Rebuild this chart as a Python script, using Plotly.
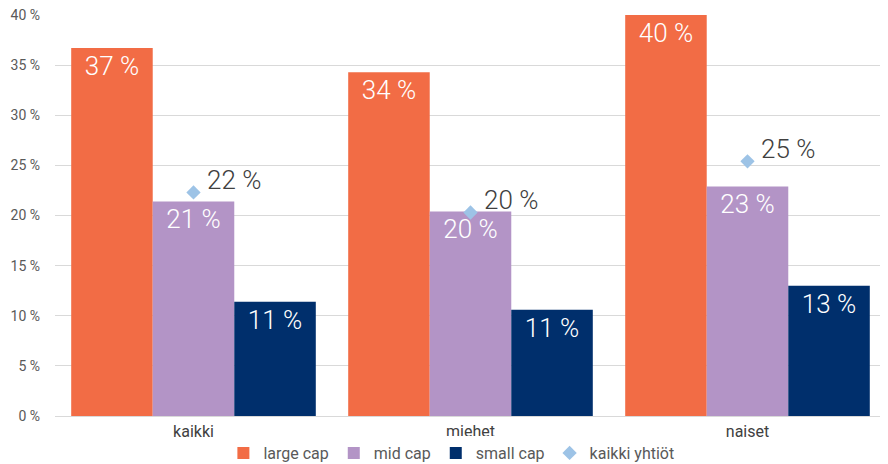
import plotly.graph_objects as go

categories = ["kaikki", "miehet", "naiset"]
large_cap = [36.7, 34.3, 40.0]
mid_cap = [21.4, 20.4, 22.9]
small_cap = [11.4, 10.6, 13.0]
kaikki_yhtiot = [22.3, 20.3, 25.4]
series_names = ["large cap", "mid cap", "small cap", "kaikki yhtiöt"]
y_ticks = [0, 5, 10, 15, 20, 25, 30, 35, 40]
y_tick_labels = [f"{v} %" for v in y_ticks]

colors = ["#F26C45", "#B394C6", "#002F6C", "#9DC3E6"]
label_font = dict(family="Roboto", size=26, color="white", weight=300)

fig = go.Figure()
for name, vals, col in zip(series_names[:3], [large_cap, mid_cap, small_cap], colors[:3]):
    fig.add_trace(go.Bar(
        x=categories, y=vals, name=name,
        marker=dict(color=col, line=dict(width=0)),
        text=[f"{round(v)} %" for v in vals],
        textposition="inside", insidetextanchor="end",
        textfont=label_font, textangle=0,
    ))

fig.add_trace(go.Scatter(
    x=categories, y=kaikki_yhtiot, name=series_names[3], mode="markers",
    marker=dict(symbol="diamond", size=11, color=colors[3]),
))
for c, v in zip(categories, kaikki_yhtiot):
    fig.add_annotation(x=c, y=v, text=f"{round(v)} %", showarrow=False,
                       xanchor="left", yanchor="middle", xshift=11, yshift=12,
                       font=dict(family="Roboto", size=26, color="#404040", weight=300))

fig.update_layout(
    width=888, height=464,
    margin=dict(l=47, r=10, t=7, b=56, autoexpand=False),
    plot_bgcolor="white", paper_bgcolor="white",
    barmode="group", bargap=0.117, bargroupgap=0,
    font=dict(family="Roboto", color="#595959"),
    showlegend=True,
    legend=dict(orientation="h", x=0.477, xanchor="center", yref="container",
                y=0.041, yanchor="middle",
                font=dict(size=16, color="#595959"),
                traceorder="normal"),
)
fig.update_yaxes(range=[0, 40], tickvals=y_ticks, ticktext=y_tick_labels,
                 showgrid=True, gridcolor="#D9D9D9", gridwidth=1,
                 zeroline=True, zerolinecolor="#D9D9D9", zerolinewidth=1,
                 tickfont=dict(size=14, color="#595959"), ticks="", ticklen=0,
                 automargin=False, ticklabeloverflow="allow", ticklabelstandoff=14)
fig.update_xaxes(showline=False, tickfont=dict(size=16, color="#404040"), ticks="",
                 automargin=False, ticklabelstandoff=4)

fig.write_html("out.html")
